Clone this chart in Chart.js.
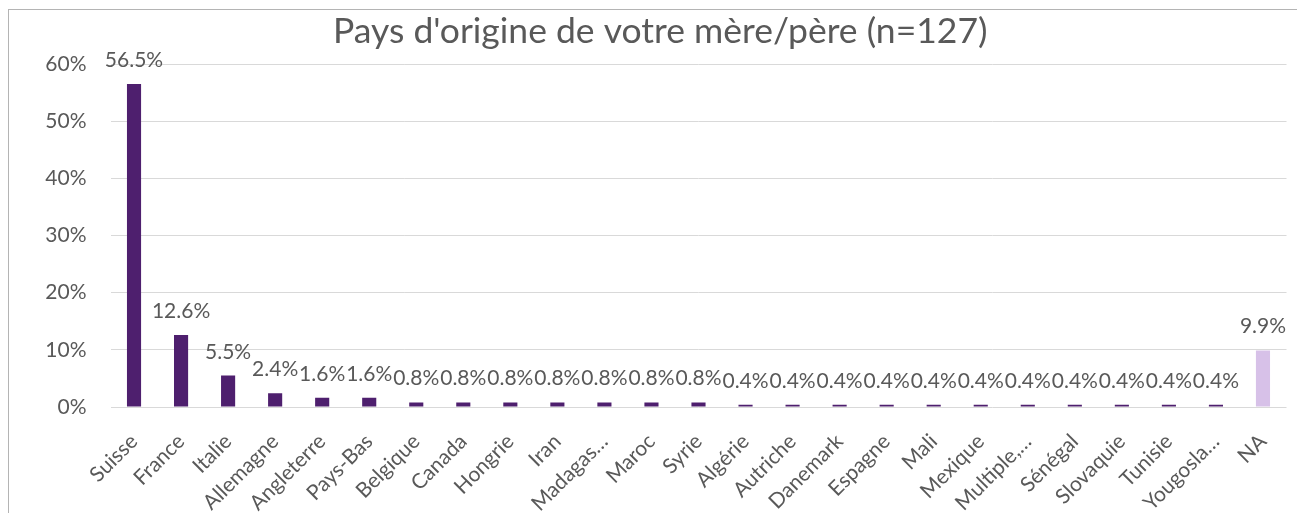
<!DOCTYPE html>
<html>
<head>
<meta charset="utf-8">
<script src="https://cdn.jsdelivr.net/npm/chart.js@4"></script>
<style>
  html, body { margin: 0; padding: 0; background: #fff; }
  #wrap { position: relative; width: 1297px; height: 513px; }
  #frame { position: absolute; left: 8px; top: 9px; right: 0; bottom: 0;
           border-top: 1px solid #b4b4b4; border-left: 1px solid #b4b4b4; pointer-events: none; }
</style>
</head>
<body>
<div id="wrap">
  <canvas id="paysChart" width="1297" height="513"></canvas>
  <div id="frame"></div>
</div>
<script>
// catégories (pays)
const pays = ["Suisse", "France", "Italie", "Allemagne", "Angleterre", "Pays-Bas", "Belgique",
    "Canada", "Hongrie", "Iran", "Madagas…", "Maroc", "Syrie", "Algérie", "Autriche", "Danemark",
    "Espagne", "Mali", "Mexique", "Multiple,…", "Sénégal", "Slovaquie", "Tunisie", "Yougosla…", "NA"];

// pourcentages
const pourcentages = [56.5, 12.6, 5.5, 2.4, 1.6, 1.6, 0.8, 0.8, 0.8, 0.8, 0.8, 0.8, 0.8,
    0.4, 0.4, 0.4, 0.4, 0.4, 0.4, 0.4, 0.4, 0.4, 0.4, 0.4, 9.9];

const yTicks = [0, 10, 20, 30, 40, 50, 60];

const violet = "#4e1f6e";
const lavande = "#d7c1e8";
const gris = "#595959";
const police = "Lato, 'Open Sans', sans-serif";

const couleurs = pays.map(p => p === "NA" ? lavande : violet);

// étiquettes de valeurs au-dessus des barres
const etiquettes = {
    id: "etiquettes",
    afterDatasetsDraw(chart) {
        const ctx = chart.ctx;
        const meta = chart.getDatasetMeta(0);
        ctx.save();
        ctx.font = "21px " + police;
        ctx.fillStyle = gris;
        ctx.textAlign = "center";
        ctx.textBaseline = "alphabetic";
        meta.data.forEach((bar, i) => {
            ctx.fillText(pourcentages[i].toFixed(1) + "%", bar.x, bar.y - 17);
        });
        ctx.restore();
    }
};

// noms des pays inclinés à 45° (comme dans Excel)
const nomsPays = {
    id: "nomsPays",
    afterDraw(chart) {
        const sx = chart.scales.x;
        const ctx = chart.ctx;
        ctx.save();
        ctx.font = "21px " + police;
        ctx.fillStyle = gris;
        ctx.textAlign = "right";
        ctx.textBaseline = "middle";
        pays.forEach((nom, i) => {
            ctx.save();
            ctx.translate(sx.getPixelForTick(i), sx.top + 31);
            ctx.rotate(-Math.PI / 4);
            ctx.fillText(nom, 0, 0);
            ctx.restore();
        });
        ctx.restore();
    }
};

const ctx = document.getElementById("paysChart").getContext("2d");
new Chart(ctx, {
    type: "bar",
    data: {
        labels: pays,
        datasets: [{
            data: pourcentages,
            backgroundColor: couleurs,
            barPercentage: 0.3,
            categoryPercentage: 1.0
        }]
    },
    options: {
        responsive: false,
        animation: false,
        layout: { padding: { left: 34, right: 10.5, top: 0, bottom: 0 } },
        plugins: {
            legend: { display: false },
            tooltip: { enabled: false },
            title: {
                display: true,
                text: "Pays d'origine de votre mère/père (n=127)",
                color: gris,
                font: { family: police, size: 35.5, weight: "normal" },
                padding: { top: 10.7, bottom: 10.7 }
            }
        },
        scales: {
            y: {
                min: 0,
                max: 60,
                afterBuildTicks(scale) {
                    scale.ticks = yTicks.map(v => ({ value: v }));
                },
                afterFit(scale) { scale.width = 76.5; },
                border: { display: false },
                grid: { color: "#d9d9d9", lineWidth: 1, drawTicks: false },
                ticks: {
                    padding: 24,
                    color: gris,
                    font: { family: police, size: 21 },
                    callback: v => v + "%"
                }
            },
            x: {
                afterFit(scale) { scale.height = 106; },
                border: { display: false },
                grid: { display: false, drawTicks: false },
                ticks: { display: false, autoSkip: false }
            }
        }
    },
    plugins: [etiquettes, nomsPays]
});
</script>
</body>
</html>
